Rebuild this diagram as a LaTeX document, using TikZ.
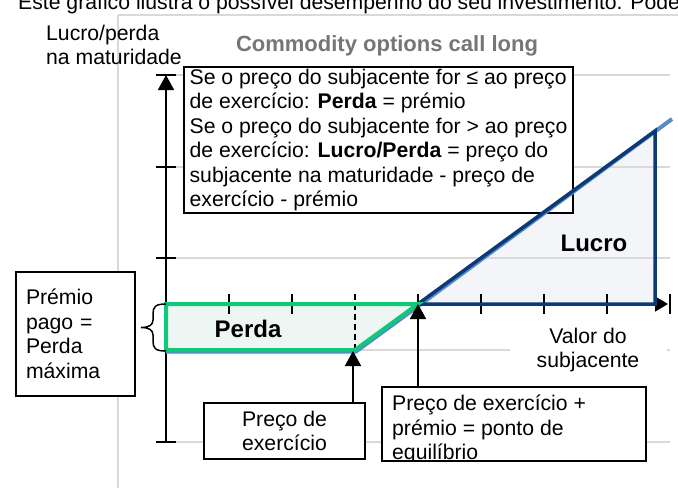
\documentclass[tikz,border=0pt]{standalone}
\usepackage{fontspec}
\setmainfont{Liberation Sans}
\usetikzlibrary{arrows.meta}

\definecolor{gridgray}{RGB}{217,217,217}
\definecolor{titlegray}{RGB}{118,118,118}
\definecolor{lossgreen}{RGB}{16,200,122}
\definecolor{lossfill}{RGB}{238,246,243}
\definecolor{payblue}{RGB}{88,138,200}
\definecolor{gainnavy}{RGB}{12,58,118}
\definecolor{gainfill}{RGB}{243,245,249}

\tikzset{
  txtbox/.style={draw, fill=white, line width=1.6pt, inner sep=0pt},
  gridln/.style={gridgray, line width=1.6pt},
  axis/.style={line width=1.8pt},
  tick/.style={line width=1.5pt},
  bold/.style={font=\fontsize{24pt}{28pt}\selectfont\bfseries},
  pointer/.style={line width=1.8pt, -{Triangle[width=16pt,length=15pt]}},
}

\begin{document}
\begin{tikzpicture}[x=1pt, y=-1pt, font=\fontsize{21.2pt}{24.5pt}\selectfont]
    \useasboundingbox (0,0) rectangle (678,488);

    \node[anchor=base west, inner sep=0pt] (intro) at (18,9) {Este gráfico ilustra o possível desempenho do seu investimento. Pode};

    \draw[gridln] (118,15) -- (678,15);
    \draw[gridln] (118,15) -- (118,488);

    % areas
    \fill[lossfill] (166,304) -- (418,304) -- (355,350) -- (166,350) -- cycle;
    \fill[gainfill] (418,304) -- (655,131) -- (655,304) -- cycle;

    \foreach \y in {75,167,258,442}
        \draw[gridln] (166,\y) -- (670,\y);
    \draw[gridln] (355,350) -- (670,350);

    % texts
    \node[anchor=north west, align=left, inner sep=0pt] (ylabel) at (46,24.5) {Lucro/perda\\na maturidade};
    \node[font=\fontsize{22pt}{26pt}\selectfont\bfseries, text=titlegray] (title) at (387,46) {Commodity options call long};

    \node[txtbox, minimum width=389, minimum height=146, align=left] (rules) at (378.5,140)
        {Se o preço do subjacente for ≤ ao preço\\
         de exercício: \textbf{Perda} = prémio\\
         Se o preço do subjacente for > ao preço\\
         de exercício: \textbf{Lucro/Perda} = preço do\\
         subjacente na maturidade - preço de\\
         exercício - prémio};

    \node[fill=white, inner sep=0pt, minimum width=157, minimum height=46, align=center] (xlabel) at (588,350) {Valor do\\subjacente};

    \node[txtbox, minimum width=119, minimum height=124, text width=99, align=left] (premium) at (75.5,334) {Prémio\\pago =\\Perda\\máxima};
    \node[txtbox, minimum width=161, minimum height=56, align=center] (strike) at (284.5,431) {Preço de\\exercício};
    \node[txtbox, minimum width=264, minimum height=74] (bep) at (514,424) {};
    \begin{scope}
        \clip (bep.south west) rectangle (bep.north east);
        \node[anchor=north west, align=left, inner sep=0pt] (beptext) at (392,395) {Preço de exercício +\\prémio = ponto de\\equilíbrio};
    \end{scope}

    \node[bold] (loss) at (248,329) {Perda};
    \node[bold] (gain) at (594,243) {Lucro};

    % axes
    \draw[axis, -{Triangle[width=16pt,length=15pt]}] (166,442) -- (166,75);
    \foreach \y in {75,167,258,442}
        \draw[tick] (156,\y) -- (176,\y);
    \draw[axis, -{Triangle[width=15pt,length=13pt]}] (166,304) -- (668,304);
    \foreach \x in {229,292,418,481,544,607,670}
        \draw[tick] (\x,294) -- (\x,314);
    \draw[tick, dash pattern=on 6pt off 4pt] (355,294) -- (355,350);

    % payoff
    \draw[payblue, line width=4pt, line join=round] (166,351.5) -- (356,351.5) -- (419,305.5) -- (672,119);
    \draw[gainnavy, line width=3.5pt] (418,304) -- (655,131) -- (655,304) -- cycle;
    \draw[lossgreen, line width=4pt] (166,304) -- (418,304) -- (355,350) -- (166,350) -- cycle;

    \draw[line width=1.5pt] (166,304) .. controls (155,304) and (153,307) .. (153,314) -- (153,320)
        .. controls (153,325) and (149,327.5) .. (141,327.5)
        .. controls (149,327.5) and (153,330) .. (153,335) -- (153,341)
        .. controls (153,348) and (155,351) .. (166,351);

    \coordinate (strikept) at (353,351);
    \coordinate (beppt) at (418,304);
    \draw[pointer] (strike.north -| strikept) -- (strikept);
    \draw[pointer] (bep.north -| beppt) -- (beppt);
\end{tikzpicture}
\end{document}
